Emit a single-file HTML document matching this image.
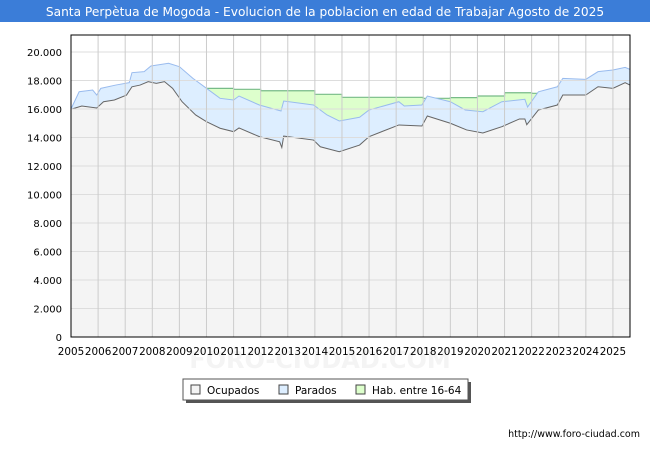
<!DOCTYPE html>
<html><head><meta charset="utf-8"><style>
body{margin:0;width:650px;height:450px;background:#fff;font-family:"DejaVu Sans","Liberation Sans",sans-serif;overflow:hidden}
</style></head><body>
<svg id="c" width="650" height="450" xmlns="http://www.w3.org/2000/svg" font-family="DejaVu Sans, Liberation Sans, sans-serif">
<rect x="0" y="0" width="650" height="22" fill="#3b7dd8"/>
<text x="325" y="16" text-anchor="middle" fill="#fff" font-size="12.2">Santa Perpètua de Mogoda - Evolucion de la poblacion en edad de Trabajar Agosto de 2025</text>
<text x="320" y="368" text-anchor="middle" fill="#f4f4f4" font-size="24" font-weight="bold">FORO-CIUDAD.COM</text>
<g id="plot"></g>
<g>
<rect x="186" y="382" width="285" height="21" fill="#555"/>
<rect x="183" y="379" width="285" height="21" fill="#fff" stroke="#555"/>
<rect x="191" y="385" width="9" height="9" fill="#f4f4f4" stroke="#444"/>
<text x="207" y="394" font-size="10.5">Ocupados</text>
<rect x="279" y="385" width="9" height="9" fill="#ddeeff" stroke="#444"/>
<text x="295" y="394" font-size="10.5">Parados</text>
<rect x="356" y="385" width="9" height="9" fill="#ddffcc" stroke="#444"/>
<text x="372" y="394" font-size="10.5">Hab. entre 16-64</text>
</g>
<text x="640" y="437" text-anchor="end" font-size="9.5">http://www.foro-ciudad.com</text>
</svg>
<script>
const yTicks=[0,2000,4000,6000,8000,10000,12000,14000,16000,18000,20000];
const yTickLabels=["0","2.000","4.000","6.000","8.000","10.000","12.000","14.000","16.000","18.000","20.000"];
const xYears=[2005,2006,2007,2008,2009,2010,2011,2012,2013,2014,2015,2016,2017,2018,2019,2020,2021,2022,2023,2024,2025];
const ocuT=[2005.0,2005.4,2005.95,2006.2,2006.6,2007.05,2007.25,2007.55,2007.85,2008.15,2008.45,2008.75,2009.1,2009.6,2010.0,2010.5,2011.0,2011.2,2011.95,2012.7,2012.78,2012.85,2013.95,2014.2,2014.9,2015.65,2016.0,2017.1,2017.95,2018.15,2019.0,2019.6,2020.2,2020.9,2021.55,2021.75,2021.82,2022.25,2022.95,2023.15,2024.0,2024.45,2025.0,2025.45,2025.63];
const ocuV=[15980,16210,16070,16510,16630,16980,17560,17680,17920,17800,17920,17450,16510,15580,15110,14650,14410,14670,14060,13700,13300,14100,13820,13350,13000,13470,14060,14880,14810,15510,15000,14530,14320,14760,15300,15300,14900,15930,16280,16980,16980,17560,17450,17850,17680];
const totT=[2005.0,2005.3,2005.8,2005.95,2006.1,2006.65,2007.15,2007.25,2007.7,2007.95,2008.6,2009.0,2009.5,2010.0,2010.5,2011.0,2011.2,2011.95,2012.75,2012.85,2013.95,2014.45,2014.9,2015.65,2016.0,2017.1,2017.3,2017.95,2018.15,2019.0,2019.55,2020.2,2020.9,2021.75,2021.85,2022.25,2022.95,2023.15,2024.0,2024.45,2025.0,2025.45,2025.63];
const totV=[16000,17210,17330,16980,17450,17680,17850,18550,18620,19020,19210,18970,18150,17450,16750,16630,16910,16280,15860,16560,16280,15580,15160,15420,15930,16510,16210,16280,16910,16510,15930,15810,16510,16680,16140,17210,17560,18150,18080,18620,18740,18920,18780];
const habYears=[2010,2011,2012,2013,2014,2015,2016,2017,2018,2019,2020,2021,2022,2023,2024,2025];
const habV=[17450,17380,17280,17280,17030,16820,16820,16820,16750,16800,16910,17140,17100,17100,17100,17100];
const X0=71,X1=630,Y0=337,TOP=35,XMIN=2005,XMAX=2025.63;
const sx=t=>X0+(t-XMIN)/(XMAX-XMIN)*(X1-X0);
const sy=v=>Y0-v*0.01425;
const g=document.getElementById('plot');const NS='http://www.w3.org/2000/svg';
function mk(tag,attrs,parent){const e=document.createElementNS(NS,tag);for(const k in attrs)e.setAttribute(k,attrs[k]);(parent||g).appendChild(e);return e;}
const bg=mk('rect',{x:X0,y:TOP,width:X1-X0,height:Y0-TOP,fill:'#fff'});


let hp=[];habYears.forEach((y,i)=>{const ye=i<habYears.length-1?habYears[i+1]:XMAX;hp.push([sx(y),sy(habV[i])],[sx(ye),sy(habV[i])]);});
const habArea=mk('path',{d:'M'+sx(habYears[0])+','+Y0+' L'+hp.map(p=>p.join(',')).join(' L')+' L'+X1+','+Y0+'Z',fill:'#ddffcc',stroke:'none'});


const habLine=mk('path',{d:'M'+hp.map(p=>p.join(',')).join(' L'),fill:'none',stroke:'#77bb88','stroke-width':1.2});


function series(T,V,fill,stroke,name){const pts=T.map((t,i)=>sx(t)+','+sy(V[i]));
const a=mk('path',{d:'M'+sx(T[0])+','+Y0+' L'+pts.join(' L')+' L'+sx(T[T.length-1])+','+Y0+'Z',fill:fill});


const l=mk('path',{d:'M'+pts.join(' L'),fill:'none',stroke:stroke,'stroke-width':1});

}
series(totT,totV,'#ddeeff','#99bbee','parados');
series(ocuT,ocuV,'#f4f4f4','#666','ocupados');
yTicks.forEach((v,i)=>{if(v>0){const l=mk('line',{x1:X0,x2:X1,y1:sy(v),y2:sy(v),stroke:'#ddd','stroke-width':1});

}
const t=mk('text',{x:62,y:sy(v)+4,'text-anchor':'end','font-size':10});t.textContent=yTickLabels[i];

});
xYears.forEach(y=>{if(y>XMIN){const l=mk('line',{x1:sx(y),x2:sx(y),y1:TOP,y2:Y0,stroke:'#ccc','stroke-width':1});

}
const t=mk('text',{x:sx(y),y:355,'text-anchor':'middle','font-size':10.4});t.textContent=y;

});
const fr=mk('rect',{x:X0,y:TOP,width:X1-X0,height:Y0-TOP,fill:'none',stroke:'#000','stroke-width':1});


</script>
</body></html>
